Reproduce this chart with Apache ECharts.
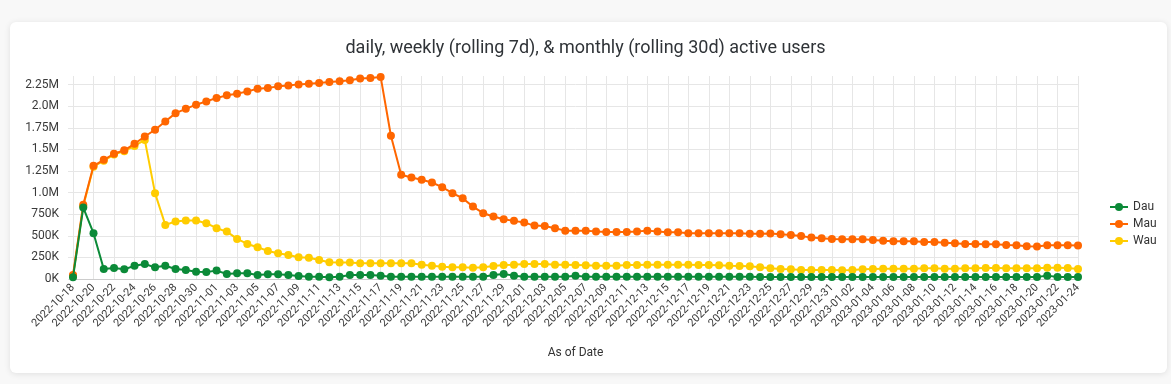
<!DOCTYPE html>
<html>
<head>
<meta charset="utf-8">
<script src="https://cdn.jsdelivr.net/npm/echarts@6/dist/echarts.min.js"></script>
<style>
  html, body { margin: 0; padding: 0; width: 1171px; height: 384px; background: #f8f8f8; overflow: hidden; }
  #card { position: absolute; left: 10px; top: 22px; width: 1157px; height: 351px; background: #fff; border-radius: 6px; box-shadow: 0 1px 6px rgba(0,0,0,0.10); }
  #chart { position: absolute; left: 0; top: 0; width: 1171px; height: 384px; }
</style>
</head>
<body>
<div id="card"></div>
<div id="chart"></div>
<script>
// Categories (As of Date)
const dates = [
  '2022-10-18','2022-10-19','2022-10-20','2022-10-21','2022-10-22','2022-10-23','2022-10-24','2022-10-25','2022-10-26','2022-10-27','2022-10-28','2022-10-29','2022-10-30','2022-10-31',
  '2022-11-01','2022-11-02','2022-11-03','2022-11-04','2022-11-05','2022-11-06','2022-11-07','2022-11-08','2022-11-09','2022-11-10',
  '2022-11-11','2022-11-12','2022-11-13','2022-11-14','2022-11-15','2022-11-16','2022-11-17','2022-11-18','2022-11-19','2022-11-20',
  '2022-11-21','2022-11-22','2022-11-23','2022-11-24','2022-11-25','2022-11-26','2022-11-27','2022-11-28','2022-11-29','2022-11-30',
  '2022-12-01','2022-12-02','2022-12-03','2022-12-04','2022-12-05','2022-12-06','2022-12-07','2022-12-08','2022-12-09','2022-12-10',
  '2022-12-11','2022-12-12','2022-12-13','2022-12-14','2022-12-15','2022-12-16','2022-12-17','2022-12-18','2022-12-19','2022-12-20',
  '2022-12-21','2022-12-22','2022-12-23','2022-12-24','2022-12-25','2022-12-26','2022-12-27','2022-12-28','2022-12-29','2022-12-30','2022-12-31',
  '2023-01-01','2023-01-02','2023-01-03','2023-01-04','2023-01-05','2023-01-06','2023-01-07','2023-01-08','2023-01-09','2023-01-10',
  '2023-01-11','2023-01-12','2023-01-13','2023-01-14','2023-01-15','2023-01-16','2023-01-17','2023-01-18','2023-01-19','2023-01-20',
  '2023-01-21','2023-01-22','2023-01-23','2023-01-24'
];

// Daily active users (thousands)
const dau = [
  20,827,530,116,128,112,154,174,135,154,116,104,85,81,
  97,58,66,66,46,54,54,46,35,27,27,20,27,46,46,46,39,27,27,27,27,27,27,27,27,27,27,46,58,39,
  27,27,27,27,27,39,27,27,27,27,27,27,27,27,27,27,27,27,27,27,27,27,27,22,22,22,22,22,22,22,22,
  22,22,22,22,22,22,22,22,22,22,22,22,22,22,22,22,22,22,22,22,39,22,22,22
];

// Monthly active users, rolling 30d (thousands)
const mau = [
  45,860,1310,1380,1450,1490,1565,1650,1728,1824,1920,1970,2018,2056,
  2095,2126,2145,2172,2203,2212,2230,2240,2253,2260,2270,2280,2290,2302,2322,2326,2339,1658,1206,1175,
  1148,1117,1063,993,935,838,762,723,692,673,
  653,618,614,588,560,560,560,549,545,545,545,549,560,549,540,540,530,530,530,530,
  530,530,525,525,527,518,510,499,479,472,464,
  460,460,460,452,444,437,437,437,429,429,421,414,406,406,402,402,394,391,379,375,391,391,391,387
];

// Weekly active users, rolling 7d (thousands)
const wau = [
  35,845,1300,1370,1440,1480,1540,1610,994,626,665,677,677,646,
  588,549,464,406,367,325,298,278,251,245,220,193,190,190,182,182,182,182,182,182,
  166,154,143,135,135,131,135,151,162,166,
  174,174,174,166,166,162,158,154,154,154,162,162,166,166,166,166,166,162,162,158,
  154,151,147,135,124,116,112,104,104,104,104,
  100,104,112,116,120,120,120,120,124,124,120,120,124,124,128,128,124,124,124,124,131,131,128,116
];

const seriesNames = ['Dau', 'Mau', 'Wau'];
const seriesColors = ['#0b8a38', '#ff6600', '#ffcc00'];
const seriesData = [dau, mau, wau];
const seriesZ = [4, 3, 2];

function fmtY(v) {
  if (v < 1000000) return (v / 1000) + 'K';
  const m = v / 1000000;
  return Number.isInteger(Math.round(m * 100) / 10) ? m.toFixed(1) + 'M' : m.toFixed(2) + 'M';
}

const chart = echarts.init(document.getElementById('chart'), null, { renderer: 'canvas' });
const FONT = 'Roboto, "Noto Sans", sans-serif';

chart.setOption({
  animation: false,
  backgroundColor: 'transparent',
  textStyle: { fontFamily: FONT },
  title: {
    text: 'daily, weekly (rolling 7d), & monthly (rolling 30d) active users',
    left: 'center',
    top: 34,
    textStyle: { fontFamily: FONT, fontSize: 18, fontWeight: 'normal', color: '#2f3337' }
  },
  legend: {
    orient: 'vertical',
    left: 1104,
    top: 196,
    itemWidth: 18,
    itemHeight: 10,
    itemGap: 5,
    data: seriesNames,
    textStyle: { fontFamily: FONT, fontSize: 12, color: '#333' }
  },
  grid: { left: 73, right: 93, top: 76, bottom: 105 },
  xAxis: {
    type: 'category',
    data: dates,
    boundaryGap: false,
    name: 'As of Date',
    nameLocation: 'middle',
    nameGap: 68,
    nameTextStyle: { fontFamily: FONT, fontSize: 12, color: '#333' },
    axisLine: { lineStyle: { color: '#cccccc' } },
    axisTick: { show: false, interval: 1 },
    axisLabel: { interval: 1, rotate: 45, fontSize: 11, color: '#3a3a3a', margin: 7 },
    splitLine: { show: true, interval: 1, lineStyle: { color: '#e6e6e6' } }
  },
  yAxis: {
    type: 'value',
    min: 0,
    max: 2350000,
    interval: 250000,
    axisLine: { show: false },
    axisTick: { show: true, length: 5, lineStyle: { color: '#e6e6e6' } },
    axisLabel: { formatter: fmtY, showMaxLabel: false, fontSize: 12, color: '#3a3a3a', margin: 14 },
    splitLine: { showMaxLine: false, lineStyle: { color: '#e6e6e6' } }
  },
  series: seriesNames.map((name, i) => ({
    name: name,
    type: 'line',
    z: seriesZ[i],
    data: seriesData[i].map(v => v * 1000),
    symbol: 'circle',
    symbolSize: 8,
    showAllSymbol: true,
    lineStyle: { width: 2, color: seriesColors[i] },
    itemStyle: { color: seriesColors[i] }
  }))
});
</script>
</body>
</html>
